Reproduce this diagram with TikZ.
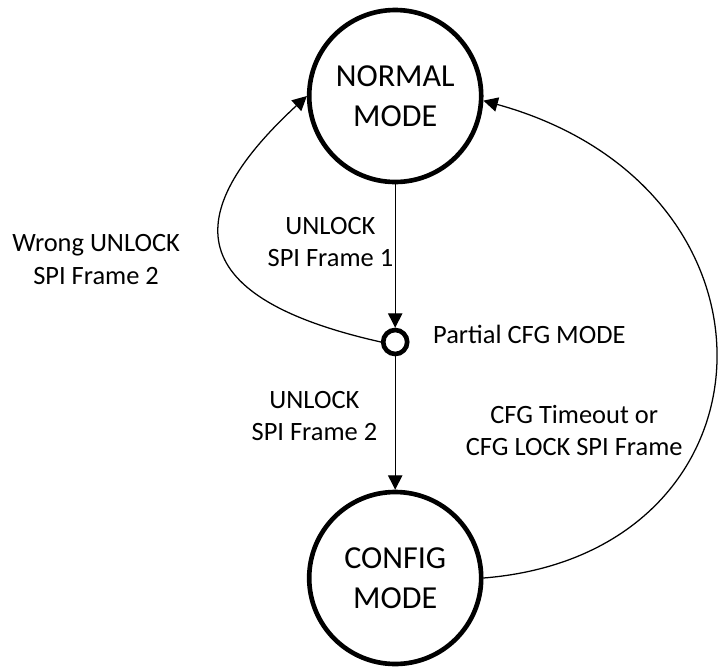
\documentclass[tikz,border=0pt]{standalone}
\usepackage{fontspec}
\setmainfont{Carlito}
\usetikzlibrary{arrows.meta, positioning}
\tikzset{
		mode state/.style={draw, circle, line width=3.3pt, minimum size=4.3cm, inner sep=0pt, align=center, font=\fontsize{22.8}{28.5}\selectfont},
		partial state/.style={draw, circle, line width=3.3pt, minimum size=0.6cm, inner sep=0pt},
		trans label/.style={align=center, inner sep=1pt, font=\fontsize{18.8}{22.9}\selectfont},
		trans/.style={->, line width=0.9pt}
	}

\begin{document}
\begin{tikzpicture}[>={Triangle[length=3.6mm,width=3.6mm]}]
		\useasboundingbox (0,0) rectangle (17.95,-16.65);

		\node[mode state]    (normal)  at (9.88,-2.4)                               {NORMAL\\MODE};
		\node[partial state] (partial) [below of = normal, node distance = 6.15cm]  {};
		\node[mode state]    (config)  [below of = partial, node distance = 5.9cm]  {CONFIG\\MODE};
		\node[trans label]   (partlbl) [right = 0.55cm of partial, yshift = 0.18cm] {Partial CFG MODE};

		\path[trans] (normal)  edge node[trans label, pos=0.4, left]          {UNLOCK\\SPI Frame 1} (partial);
		\path[trans] (partial) edge node[trans label, pos=0.45, left=0.4cm]   {UNLOCK\\SPI Frame 2} (config);

		\draw[trans] (partial.west) .. controls +(-4.9,1.1) and +(-3.25,-3.0) .. (normal.west)
			node[trans label, pos=0.45, left=1.1cm] {Wrong UNLOCK\\SPI Frame 2};
		\draw[trans] (config.east) .. controls +(7.5,0.6) and +(7.95,-2.2) .. (normal.-3)
			node[trans label, pos=0.39, left=0.45cm] {CFG Timeout or\\CFG LOCK SPI Frame};

	\end{tikzpicture}
\end{document}
